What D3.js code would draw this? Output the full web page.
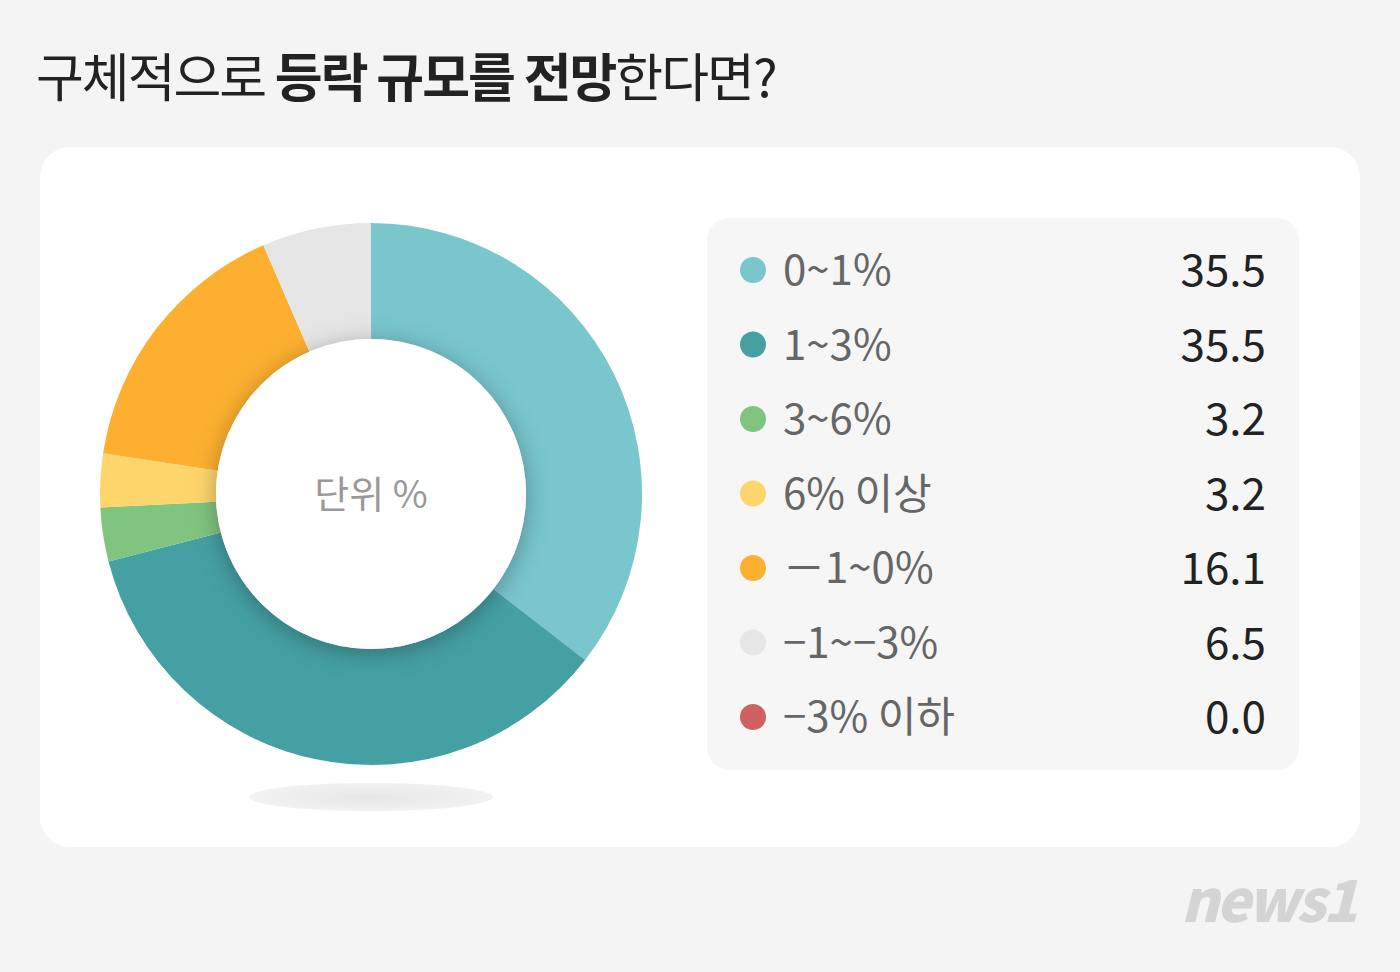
<!DOCTYPE html><html><head><meta charset="utf-8"><script src="https://cdn.jsdelivr.net/npm/d3@7"></script>
<style>body{margin:0;background:#f4f4f4}svg{display:block}text{font-family:"Noto Sans CJK KR","Noto Sans",sans-serif}</style></head><body>
<script>
const categories=["0~1%","1~3%","3~6%","6% 이상","－1~0%","−1~−3%","−3% 이하"];
const values=[35.5,35.5,3.2,3.2,16.1,6.5,0.0];
const colors=["#79c6cd","#45a0a3","#7fc47f","#fdd56a","#fdb02f","#e6e6e6","#d06062"];
const W=1400,H=972;
const svg=d3.select("body").append("svg").attr("width",W).attr("height",H);
svg.append("rect").attr("width",W).attr("height",H).attr("fill","#f4f4f4");
const t=svg.append("text").attr("x",36).attr("y",97).attr("font-size",52).attr("fill","#222").attr("letter-spacing",-2);
t.append("tspan").attr("font-weight",400).text("구체적으로 ");
t.append("tspan").attr("font-weight",700).text("등락 규모를 전망");
t.append("tspan").attr("font-weight",400).text("한다면?");
svg.append("rect").attr("x",40).attr("y",147).attr("width",1320).attr("height",700).attr("rx",30).attr("fill","#fff");
const defs=svg.append("defs");
const g=defs.append("radialGradient").attr("id","sh");
g.append("stop").attr("offset","0%").attr("stop-color","#e6e6e6");
g.append("stop").attr("offset","100%").attr("stop-color","#f2f2f2");
svg.append("ellipse").attr("cx",371).attr("cy",797).attr("rx",122).attr("ry",14).attr("fill","url(#sh)");
const pie=d3.pie().sort(null).value(d=>d)(values);
const arc=d3.arc().innerRadius(155).outerRadius(271);
const cg=svg.append("g").attr("transform","translate(371,494)");
cg.selectAll("path").data(pie).join("path").attr("d",arc).attr("fill",(d,i)=>colors[i]);
const f=defs.append("filter").attr("id","ds").attr("x","-30%").attr("y","-30%").attr("width","160%").attr("height","160%");
f.append("feDropShadow").attr("dx",0).attr("dy",4).attr("stdDeviation",12).attr("flood-color","#000").attr("flood-opacity",0.3);
cg.append("circle").attr("r",155).attr("fill","#fff").attr("filter","url(#ds)");
cg.append("text").attr("text-anchor","middle").attr("y",14).attr("font-size",38).attr("fill","#999").text("단위 %");
svg.append("rect").attr("x",707).attr("y",218).attr("width",592).attr("height",552).attr("rx",22).attr("fill","#f6f6f6");
const y=d3.scalePoint().domain(categories).range([270,717]);
const rows=svg.selectAll("g.r").data(categories).join("g").attr("transform",d=>`translate(0,${y(d)})`);
rows.append("circle").attr("cx",753).attr("r",13).attr("fill",(d,i)=>colors[i]);
rows.append("text").attr("x",783).attr("y",15).attr("font-size",42).attr("fill","#666").text(d=>d);
rows.append("text").attr("x",1266).attr("y",16).attr("text-anchor","end").attr("font-size",44).attr("fill","#222").text((d,i)=>values[i].toFixed(1));
svg.append("text").attr("x",1355).attr("y",922).attr("text-anchor","end").attr("font-size",58).attr("font-weight",900).attr("font-style","italic").attr("fill","#d4d4d4").attr("letter-spacing",-3).text("news1");
</script></body></html>
